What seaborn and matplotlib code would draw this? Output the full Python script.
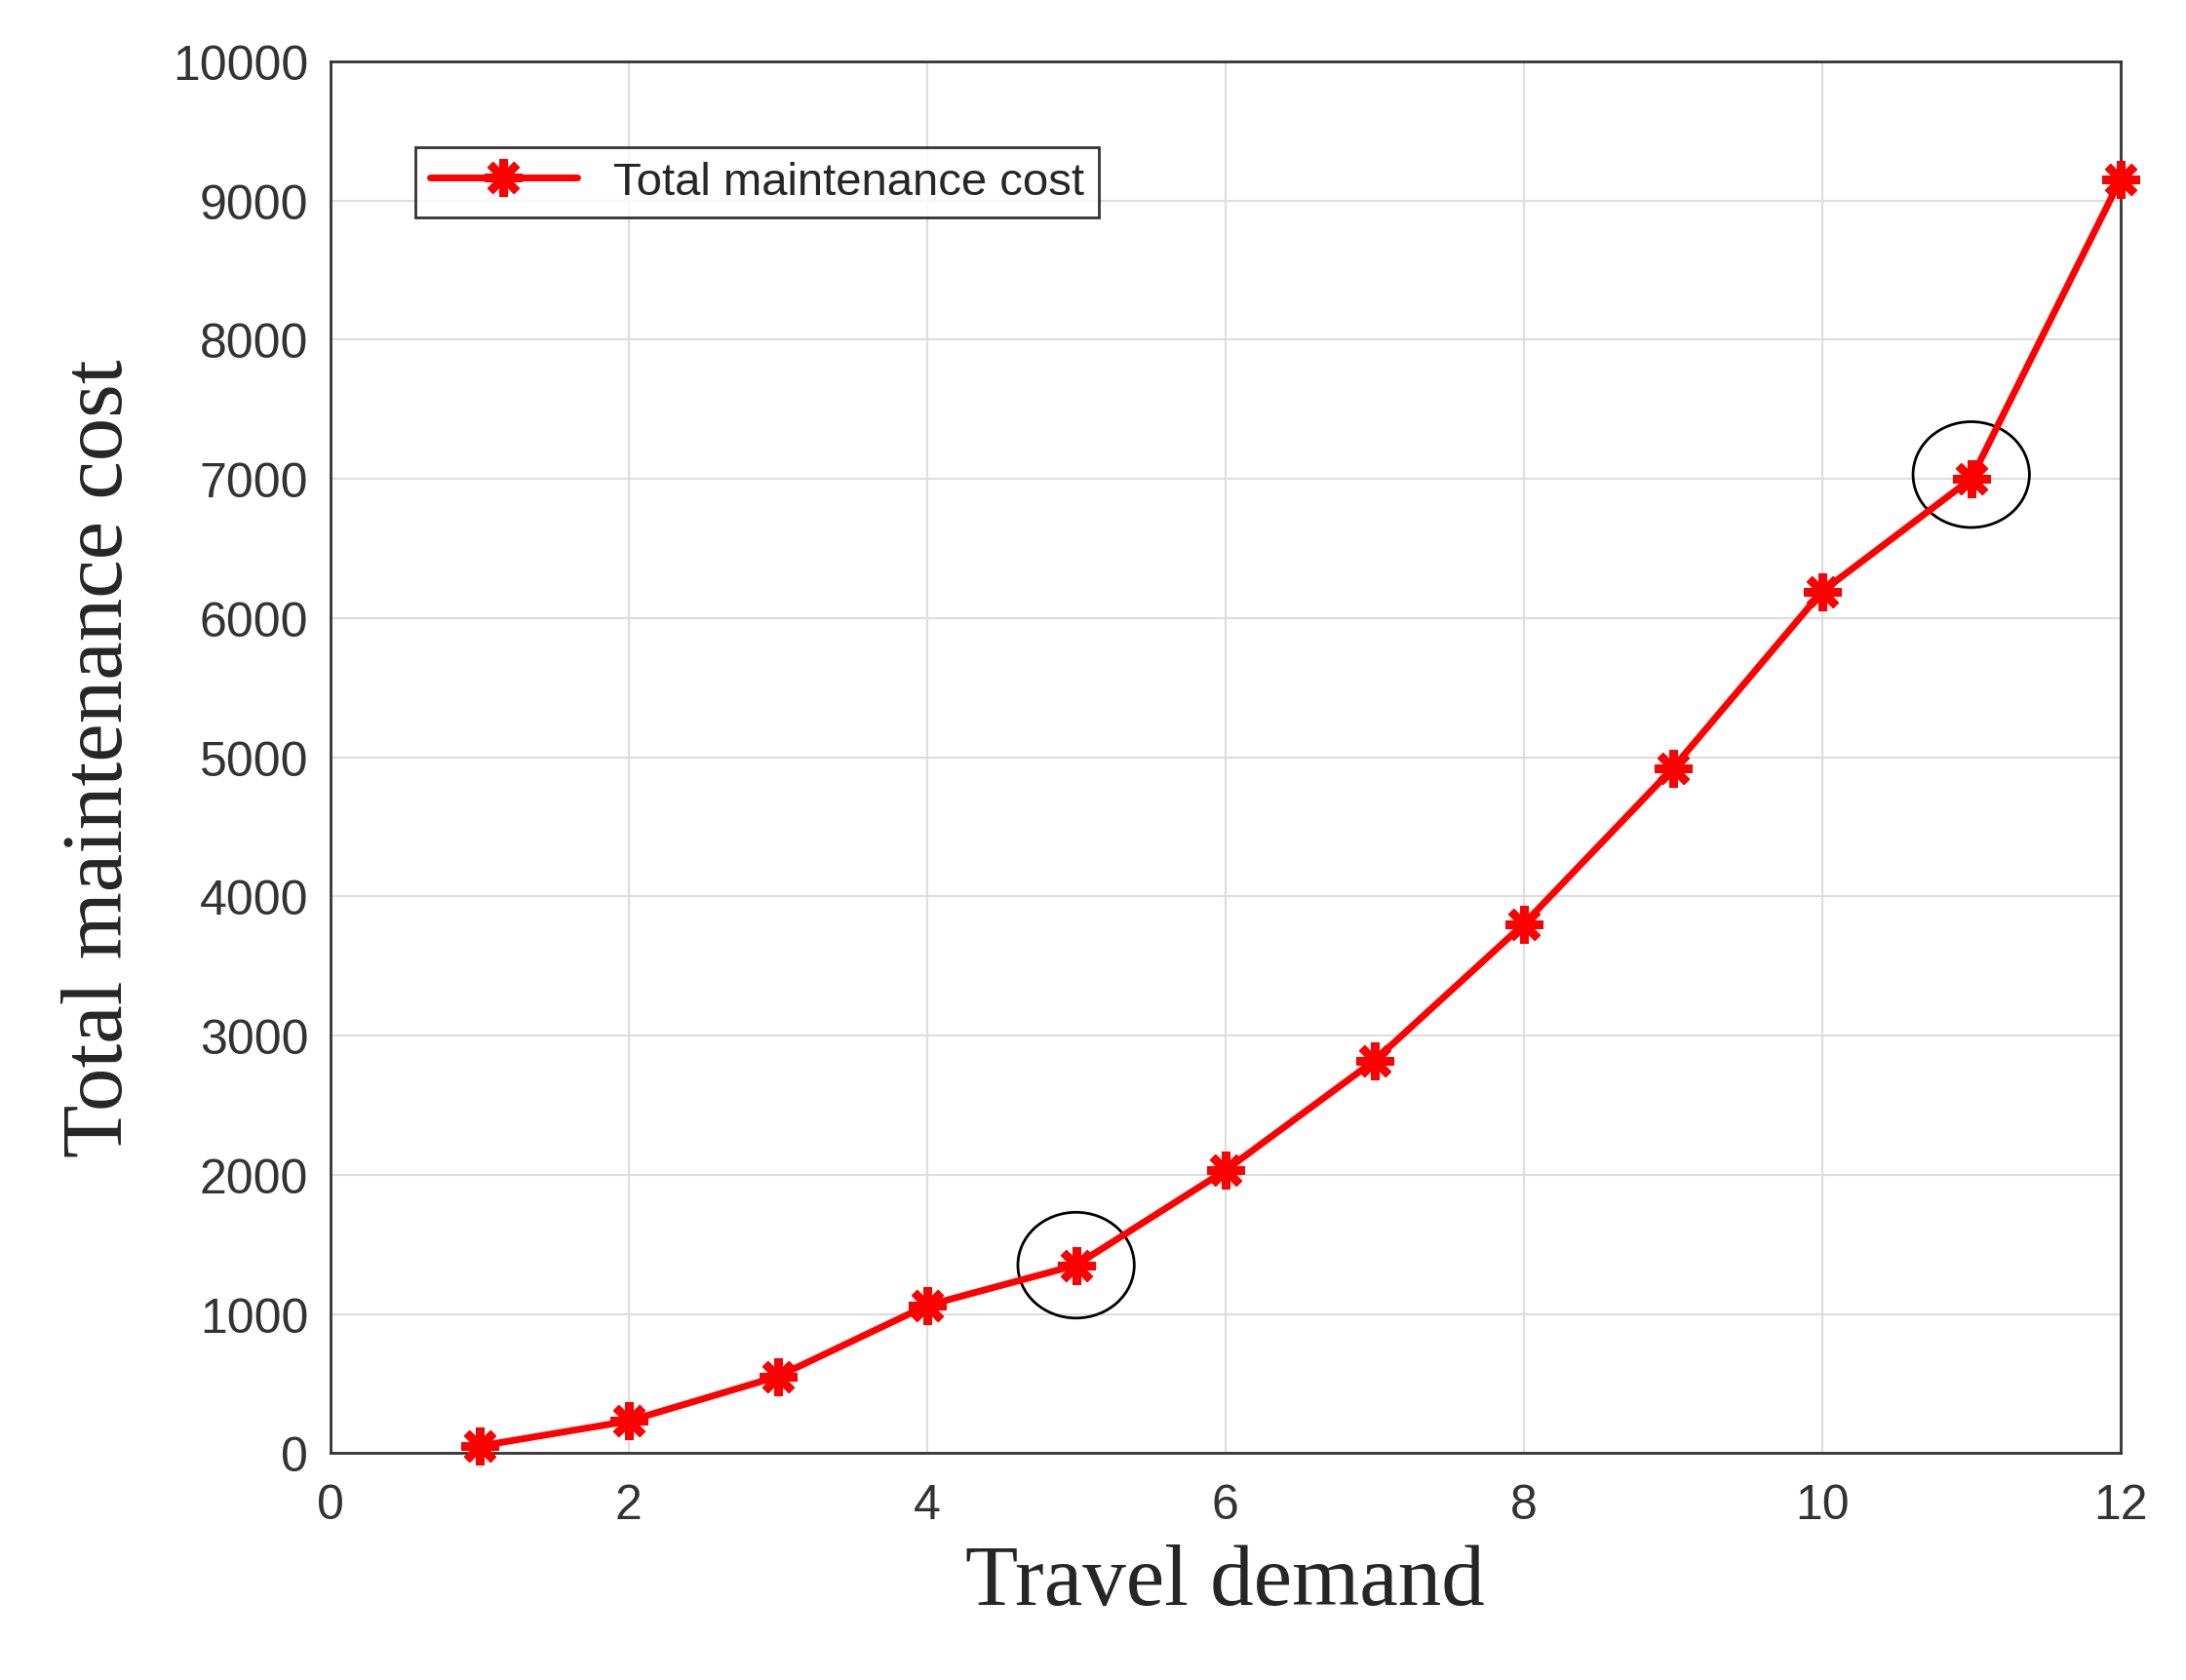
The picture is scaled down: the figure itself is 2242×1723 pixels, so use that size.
import matplotlib
matplotlib.use("Agg")
import matplotlib.pyplot as plt
import seaborn as sns
import pandas as pd
from matplotlib.patches import Ellipse

demand = [1, 2, 3, 4, 5, 6, 7, 8, 9, 10, 11, 12]
cost = [50, 230, 550, 1060, 1350, 2030, 2820, 3800, 4920, 6190, 7000, 9150]
circled = [(5, 1350), (11, 7030)]

sns.set_theme(style="whitegrid")
plt.rcParams['font.family'] = ['Liberation Sans', 'DejaVu Sans']

fig = plt.figure(figsize=(22.42, 17.24), dpi=100)
ax = fig.add_axes([0.151, 0.135, 0.819, 0.828])
df = pd.DataFrame({"Travel demand": demand, "cost": cost})
sns.lineplot(data=df, x="Travel demand", y="cost", ax=ax, color="red", linewidth=5,
             marker=(8, 2, 0), markersize=28, markeredgewidth=6, markeredgecolor="red",
             label="Total maintenance cost", clip_on=False, zorder=5)
for (cx, cy) in circled:
    ax.add_patch(Ellipse((cx, cy), 0.78, 760, fill=False, edgecolor="black", linewidth=2))

ax.set_xlim(0, 12)
ax.set_ylim(0, 10000)
ax.set_xticks(range(0, 13, 2))
ax.set_yticks(range(0, 10001, 1000))
ax.tick_params(labelsize=36, colors="#333333", length=0)
ax.tick_params(axis="x", pad=22)
ax.tick_params(axis="y", pad=16)
ax.grid(True, color="#dddddd", linewidth=1.5)
for s in ax.spines.values():
    s.set_color("#333333"); s.set_linewidth(2)
ax.set_xlabel("Travel demand", fontsize=64, family=["Liberation Serif"], labelpad=12)
ax.set_ylabel("Total maintenance cost", fontsize=64, family=["Liberation Serif"], labelpad=24)
leg = ax.legend(loc="upper left", bbox_to_anchor=(0.035, 0.955), fontsize=34, frameon=True,
                fancybox=False, edgecolor="black", handlelength=3.2, borderpad=0.3)
leg.get_frame().set_linewidth(2)
fig.savefig("out.png", dpi=100, facecolor="white")
